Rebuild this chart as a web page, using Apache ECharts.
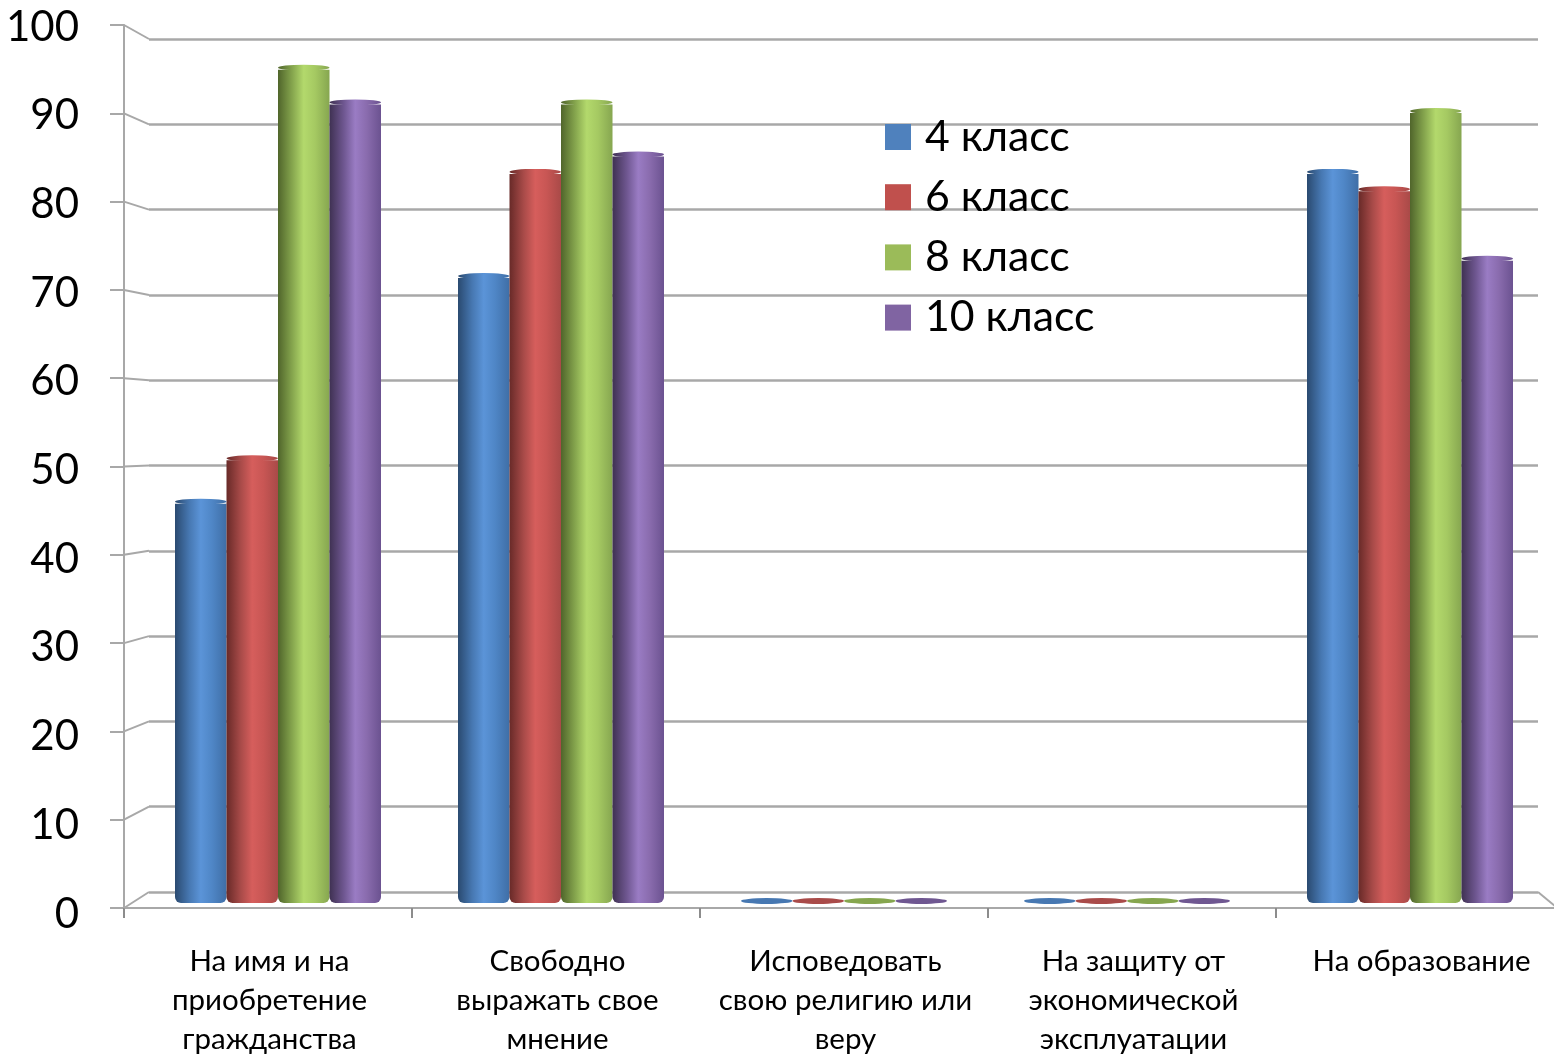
<!DOCTYPE html>
<html><head><meta charset="utf-8">
<style>html,body{margin:0;padding:0;background:#fff}#c{width:1554px;height:1054px;filter:blur(0.5px)}</style>
<script src="https://cdn.jsdelivr.net/npm/echarts@6/dist/echarts.min.js"></script>
</head><body><div id="c"></div>
<script>
var categories = ['На имя и на\nприобретение\nгражданства','Свободно\nвыражать свое\nмнение','Исповедовать\nсвою религию или\nверу','На защиту от\nэкономической\nэксплуатации','На образование'];
var grade4  = [46, 72, 0, 0, 84];
var grade6  = [51, 84, 0, 0, 82];
var grade8  = [96, 92, 0, 0, 91];
var grade10 = [92, 86, 0, 0, 74];
var seriesNames = ['4 класс','6 класс','8 класс','10 класс'];
var yTicks = [0,10,20,30,40,50,60,70,80,90,100];
var legendColors = ['#4f81bd','#c0504d','#9bbb59','#8064a2'];
var shades = [
  ['#2a4a70','#4778b2','#5b94d8','#4f86c6','#3f6ea6'],
  ['#682a28','#a94b49','#d65e5c','#c85654','#a94a48'],
  ['#50652b','#86a64e','#b3d96c','#a5c962','#86a650'],
  ['#3f3152','#6f5791','#9a7cc4','#8a6cae','#6b5290']
];
var allValues = [grade4, grade6, grade8, grade10];
var FONT = 'Lato, "Open Sans", sans-serif';
var GRID = '#a8a8a8';

function grad(s){
  return new echarts.graphic.LinearGradient(0,0,1,0,[
    {offset:0,color:s[0]},{offset:.28,color:s[1]},{offset:.5,color:s[2]},{offset:.72,color:s[3]},{offset:1,color:s[4]}
  ]);
}
var chart = echarts.init(document.getElementById('c'), null, {renderer:'canvas'});
var series = [];
allValues.forEach(function(vals,i){
  series.push({name:seriesNames[i],type:'bar',xAxisIndex:0,yAxisIndex:0,data:vals,barWidth:51.5,barGap:'0%',z:3,
    itemStyle:{color:grad(shades[i]),borderRadius:[0,0,6,6]},silent:true});
});
allValues.forEach(function(vals,i){
  series.push({name:seriesNames[i]+' cap',type:'pictorialBar',xAxisIndex:0,yAxisIndex:0,data:vals,barWidth:51.5,barGap:'0%',z:4,
    symbol:'circle',symbolSize:[51.5,6],symbolPosition:'end',symbolOffset:[0,-5],
    itemStyle:{color:function(p){return p.value===0 ? shades[i][1] : grad(shades[i]);}},silent:true});
});
series.push({type:'custom',name:'walls',xAxisIndex:2,yAxisIndex:2,z:1,silent:true,
  data:yTicks.map(function(v){return [0,v];}),
  renderItem:function(params,api){
    var v = api.value(1), x0 = params.coordSys.x;
    var f = api.coord([0,v]);
    var b = chart.convertToPixel({gridIndex:1},[0,v]);
    var kids = [{type:'line',shape:{x1:x0,y1:f[1],x2:b[0],y2:b[1]},style:{stroke:GRID,lineWidth:2}}];
    if(v===0){
      var r = chart.convertToPixel({gridIndex:1},[1,0]);
      kids.push({type:'line',shape:{x1:r[0],y1:r[1],x2:r[0]+17,y2:r[1]+14},style:{stroke:GRID,lineWidth:2}});
    }
    return {type:'group',children:kids};
  }
});
chart.setOption({
  animation:false,
  backgroundColor:'#fff',
  grid:[
    {left:136.5,width:1415,top:35,height:868,outerBoundsMode:'none'},
    {left:149,width:1389,top:39,height:853,outerBoundsMode:'none'},
    {left:124,width:1440,top:25,height:883,outerBoundsMode:'none'},
    {left:124,width:1440,top:27,height:887,outerBoundsMode:'none'}
  ],
  legend:{
    data:seriesNames.map(function(n,i){return {name:n,itemStyle:{color:legendColors[i]}};}),
    orient:'vertical',left:885,top:110,padding:0,itemWidth:26,itemHeight:26,itemGap:6.2,icon:'rect',selectedMode:false,
    textStyle:{fontFamily:FONT,fontSize:42.8,color:'#000',lineHeight:51,padding:[3,0,0,9]},
  },
  xAxis:[
    {gridIndex:0,type:'category',data:categories,show:false},
    {gridIndex:1,type:'value',min:0,max:1,show:false},
    {gridIndex:2,type:'category',data:categories,
      axisLine:{lineStyle:{color:GRID,width:2}},
      axisTick:{show:true,length:10,alignWithLabel:false,lineStyle:{color:'#8c8c8c',width:2}},
      axisLabel:{interval:0,margin:34,color:'#000',fontFamily:FONT,fontSize:29.5,lineHeight:39,align:'center',verticalAlign:'top',hideOverlap:false,padding:[0,0,0,3]}},
    {gridIndex:3,type:'category',data:categories,show:false}
  ],
  yAxis:[
    {gridIndex:0,type:'value',min:0,max:100,show:false},
    {gridIndex:1,type:'value',min:0,max:100,interval:10,
      axisLine:{show:false},axisTick:{show:false},axisLabel:{show:false},
      splitLine:{show:true,lineStyle:{color:GRID,width:2.5}}},
    {gridIndex:2,type:'value',min:0,max:100,interval:10,splitLine:{show:false},
      axisLine:{show:true,lineStyle:{color:GRID,width:2}},
      axisTick:{show:true,length:14,lineStyle:{color:GRID,width:2}},
      axisLabel:{show:false}},
    {gridIndex:3,type:'value',min:0,max:100,interval:10,splitLine:{show:false},
      axisLine:{show:false},axisTick:{show:false},
      axisLabel:{color:'#000',fontFamily:FONT,fontSize:42,margin:45}}
  ],
  series:series
});
</script></body></html>
